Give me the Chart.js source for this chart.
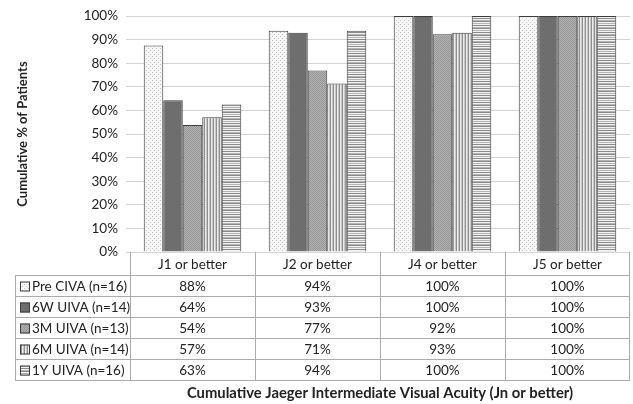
<!DOCTYPE html>
<html>
<head>
<meta charset="utf-8">
<script src="https://cdn.jsdelivr.net/npm/chart.js@4"></script>
<style>
  html, body { margin: 0; padding: 0; background: #fff; }
  #wrap { width: 633px; height: 404px; }
</style>
</head>
<body>
<div id="wrap"><canvas id="myChart"></canvas></div>
<script>
'use strict';

const categories = ['J1 or better', 'J2 or better', 'J4 or better', 'J5 or better'];
const seriesNames = ['Pre CIVA (n=16)', '6W UIVA (n=14)', '3M UIVA (n=13)', '6M UIVA (n=14)', '1Y UIVA (n=16)'];
const preCiva = [87.5, 93.75, 100, 100];
const uiva6w = [64.3, 92.9, 100, 100];
const uiva3m = [53.8, 76.9, 92.3, 100];
const uiva6m = [57.1, 71.4, 92.9, 100];
const uiva1y = [62.5, 93.75, 100, 100];
const allSeries = [preCiva, uiva6w, uiva3m, uiva6m, uiva1y];

const FONT = 'Lato, "Open Sans", sans-serif';
const TEXT = '#222';

const canvas = document.getElementById('myChart');
const ctx = canvas.getContext('2d');

// small tiles for the hatch fills
function tile(w, h, draw) {
  const c = document.createElement('canvas');
  c.width = w; c.height = h;
  draw(c.getContext('2d'));
  return ctx.createPattern(c, 'repeat');
}

const fills = [
  tile(4, 4, g => { // light dots
    g.fillStyle = '#f6f6f6'; g.fillRect(0, 0, 4, 4);
    g.fillStyle = '#c4c4c4'; g.fillRect(0, 0, 1, 1); g.fillRect(2, 2, 1, 1);
  }),
  '#6e6e6e',
  tile(2, 2, g => { // fine grey texture
    g.fillStyle = '#b2b2b2'; g.fillRect(0, 0, 2, 2);
    g.fillStyle = '#969696'; g.fillRect(0, 0, 1, 1); g.fillRect(1, 1, 1, 1);
  }),
  tile(3, 1, g => { // vertical lines
    g.fillStyle = '#ececec'; g.fillRect(0, 0, 3, 1);
    g.fillStyle = '#8e8e8e'; g.fillRect(0, 0, 1, 1);
    g.fillStyle = '#c8c8c8'; g.fillRect(2, 0, 1, 1);
  }),
  tile(1, 7, g => { // horizontal lines
    g.fillStyle = '#f2f2f2'; g.fillRect(0, 0, 1, 7);
    g.fillStyle = '#8a8a8a'; g.fillRect(0, 0, 1, 1); g.fillRect(0, 4, 1, 1);
    g.fillStyle = '#b4b4b4'; g.fillRect(0, 2, 1, 1); g.fillRect(0, 6, 1, 1);
  })
];

const datasets = allSeries.map((vals, i) => ({
  label: seriesNames[i],
  data: vals,
  backgroundColor: fills[i],
  borderColor: '#3c3c3c',
  borderWidth: 1,
  barPercentage: 1,
  categoryPercentage: 0.78
}));

// data table under the plot
const tablePlugin = {
  id: 'dataTable',
  afterDraw(chart) {
    const c = chart.ctx;
    const area = chart.chartArea;
    const xs = chart.scales.x;
    const top = Math.round(area.bottom);
    const headH = 23, rowH = 21;
    const left = 15, right = Math.round(area.right);
    const colW = (xs.right - xs.left) / categories.length;
    const bottom = top + headH + rowH * seriesNames.length;

    c.save();
    c.strokeStyle = '#ababab';
    c.lineWidth = 1;
    c.beginPath();
    for (let r = 0; r <= seriesNames.length; r++) {
      const y = top + headH + r * rowH + 0.5;
      c.moveTo(left, y); c.lineTo(right, y);
    }
    for (let k = 0; k <= categories.length; k++) {
      const x = Math.round(xs.left + k * colW) + (k === categories.length ? -0.5 : 0.5);
      c.moveTo(x, top); c.lineTo(x, bottom);
    }
    c.moveTo(left + 0.5, top + headH); c.lineTo(left + 0.5, bottom);
    c.stroke();

    c.font = '13.5px ' + FONT;
    c.fillStyle = TEXT;
    c.textBaseline = 'middle';
    c.textAlign = 'center';
    categories.forEach((cat, k) => {
      c.fillText(cat, xs.getPixelForValue(k), top + headH / 2 + 1);
    });
    seriesNames.forEach((name, r) => {
      const yc = top + headH + r * rowH + rowH / 2 + 1;
      // legend key
      c.fillStyle = fills[r];
      c.fillRect(20, yc - 5, 10, 10);
      c.strokeStyle = '#3c3c3c';
      c.strokeRect(20.5, yc - 4.5, 9, 9);
      c.fillStyle = TEXT;
      c.textAlign = 'left';
      c.fillText(name, 32, yc);
      c.textAlign = 'center';
      allSeries[r].forEach((v, k) => {
        c.fillText(Math.round(v) + '%', xs.getPixelForValue(k), yc);
      });
    });
    c.restore();
  }
};

let chartObj = {
  type: 'bar',
  data: { labels: categories, datasets: datasets },
  options: {
    responsive: true,
    maintainAspectRatio: false,
    animation: false,
    layout: { padding: { top: 14, right: 3, left: 0, bottom: 0 } },
    plugins: { legend: { display: false }, tooltip: { enabled: false } },
    scales: {
      x: {
        ticks: { display: false },
        grid: { display: false },
        border: { display: false },
        afterFit: s => { s.height = 152; },
        title: {
          display: true,
          text: 'Cumulative Jaeger Intermediate Visual Acuity (Jn or better)',
          color: TEXT,
          font: { family: FONT, size: 14.8, weight: 'bold' },
          padding: { top: 0, bottom: 2 }
        }
      },
      y: {
        min: 0,
        max: 100,
        ticks: {
          stepSize: 10,
          color: TEXT,
          font: { family: FONT, size: 13.5 },
          padding: 8,
          callback: v => v + '%'
        },
        grid: { color: '#d4d4d4', tickLength: 4, drawTicks: true },
        border: { display: false },
        afterFit: s => { s.width = 130; },
        title: {
          display: true,
          text: 'Cumulative % of Patients',
          color: TEXT,
          font: { family: FONT, size: 13, weight: 'bold' },
          padding: { top: 15, bottom: 0 }
        }
      }
    }
  },
  plugins: [tablePlugin]
};

new Chart(canvas, chartObj);
</script>
</body>
</html>
